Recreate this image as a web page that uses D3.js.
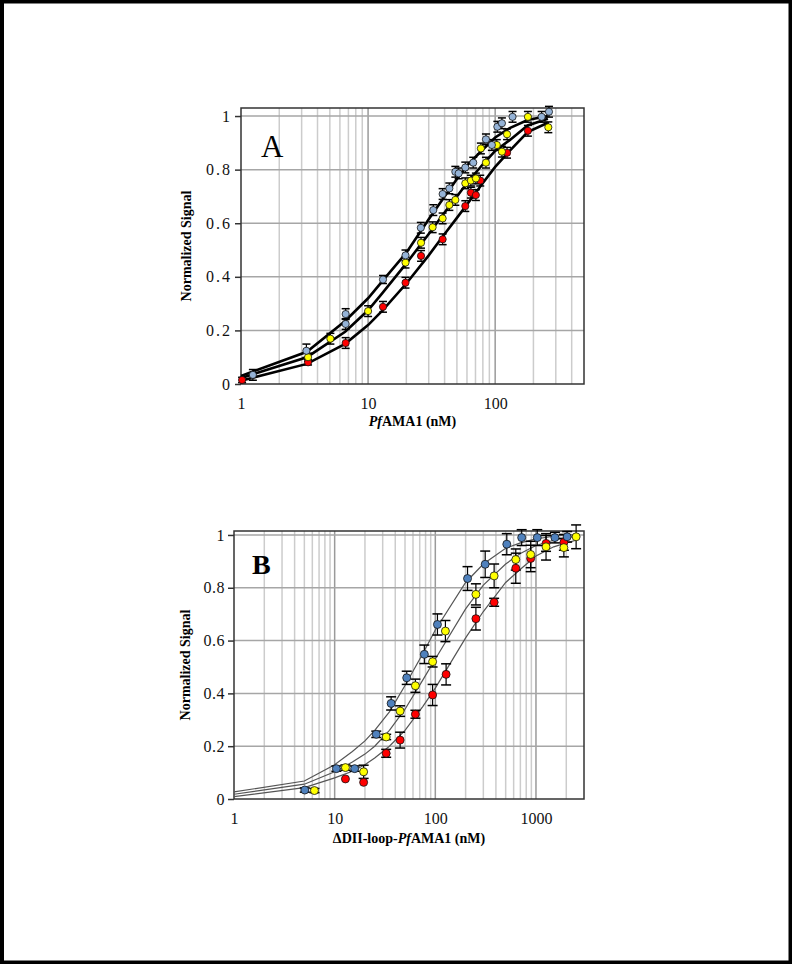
<!DOCTYPE html>
<html>
<head>
<meta charset="utf-8">
<script src="https://cdn.jsdelivr.net/npm/d3@7"></script>
<style>
  body { margin: 0; background: #fff; }
  text { font-family: "Liberation Serif", "Times New Roman", serif; }
</style>
</head>
<body>
<div class="chart"></div>
<script>
// Binding curves, two panels (A and B), log x axis
var svgWidth = 792;
var svgHeight = 964;

// ---- data: [concentration nM, normalized signal, error]
var aBlue = [[1.24,0.034,0.02],[3.27,0.124,0.025],[6.66,0.261,0.02],[6.66,0.224,0.02],[13.1,0.39,0.015],
  [19.7,0.48,0.02],[26,0.583,0.02],[32.6,0.649,0.02],[38.6,0.709,0.02],[43.6,0.73,0.02],[48.6,0.792,0.02],
  [51.6,0.786,0.02],[58.2,0.808,0.02],[67.2,0.826,0.02],[84.6,0.913,0.02],[94.2,0.892,0.02],[104,0.96,0.02],
  [113,0.973,0.02],[137,0.997,0.02],[232,0.997,0.02],[265,1.016,0.02]];
var aYellow = [[3.37,0.10,0.015],[5.05,0.169,0.02],[10,0.272,0.02],[19.7,0.453,0.02],[26.1,0.527,0.02],
  [32.2,0.585,0.02],[38.6,0.618,0.02],[43.6,0.668,0.02],[48.6,0.687,0.02],[58.2,0.749,0.02],[64.4,0.759,0.02],
  [70.5,0.767,0.02],[77.2,0.879,0.02],[84.6,0.826,0.02],[103,0.892,0.02],[113,0.867,0.02],[124,0.932,0.02],
  [181,0.997,0.02],[262,0.958,0.02]];
var aRed = [[1.02,0.015,0.01],[3.37,0.081,0.01],[6.66,0.153,0.02],[13.1,0.288,0.02],[19.7,0.378,0.02],
  [26.1,0.478,0.02],[38.6,0.54,0.02],[58.2,0.664,0.02],[64.4,0.714,0.02],[70.5,0.705,0.02],[76.3,0.759,0.02],
  [124,0.863,0.02],[181,0.945,0.02]];

// fitted curves, panel A
var aCurveX = [1, 3.3, 6.6, 10, 13, 20, 30, 40, 50, 60, 80, 100, 130, 180, 260];
var aCurveBlue = [0.03, 0.12, 0.235, 0.32, 0.385, 0.49, 0.615, 0.70, 0.765, 0.815, 0.875, 0.92, 0.955, 0.985, 1.0];
var aCurveYellow = [0.022, 0.10, 0.195, 0.275, 0.34, 0.45, 0.56, 0.64, 0.70, 0.75, 0.82, 0.87, 0.91, 0.965, 0.99];
var aCurveRed = [0.012, 0.075, 0.15, 0.22, 0.275, 0.375, 0.48, 0.56, 0.62, 0.67, 0.75, 0.81, 0.87, 0.94, 0.975];

var bBlue = [[5.05,0.034,0.008],[10.4,0.115,0.01],[15.8,0.115,0.01],[25.9,0.245,0.012],[36.4,0.362,0.025],
  [52,0.459,0.025],[77.8,0.548,0.035],[105,0.661,0.04],[209,0.835,0.045],[313,0.889,0.05],[513,0.965,0.04],
  [721,0.99,0.03],[1030,0.99,0.03],[1542,0.99,0.02],[2040,0.993,0.02]];
var bYellow = [[6.3,0.032,0.008],[12.8,0.119,0.01],[19.4,0.103,0.025],[32.5,0.235,0.01],[44.7,0.333,0.02],
  [63.4,0.429,0.025],[94,0.52,0.02],[126,0.636,0.04],[253,0.775,0.04],[384,0.845,0.045],[630,0.907,0.04],
  [886,0.926,0.05],[1259,0.955,0.05],[1893,0.952,0.035],[2505,0.993,0.045]];
var bRed = [[12.8,0.076,0.0],[19.4,0.063,0.0],[32.5,0.173,0.015],[44.7,0.223,0.03],[63.4,0.321,0.015],
  [94,0.394,0.04],[128,0.472,0.04],[253,0.683,0.043],[384,0.745,0.015],[630,0.874,0.057],[886,0.911,0.05],
  [1259,0.968,0.03],[1893,0.972,0.03]];

// fitted curves, panel B
var bCurveX = [1, 5, 10, 15, 20, 25, 35, 50, 75, 100, 200, 300, 500, 700, 1000, 1500, 2000, 2500];
var bCurveBlue = [0.027, 0.068, 0.13, 0.18, 0.22, 0.26, 0.33, 0.43, 0.55, 0.64, 0.82, 0.89, 0.95, 0.97, 0.985, 0.995, 1.0, 1.0];
var bCurveYellow = [0.018, 0.056, 0.103, 0.14, 0.17, 0.20, 0.26, 0.34, 0.45, 0.53, 0.72, 0.81, 0.89, 0.93, 0.96, 0.98, 0.99, 0.995];
var bCurveRed = [0.009, 0.043, 0.08, 0.105, 0.13, 0.155, 0.20, 0.26, 0.35, 0.42, 0.61, 0.71, 0.82, 0.87, 0.92, 0.955, 0.97, 0.98];

var yTicks = [0, 0.2, 0.4, 0.6, 0.8, 1];

var svg = d3
  .select(".chart")
  .append("svg")
  .attr("width", svgWidth)
  .attr("height", svgHeight);

// page frame
svg.append("rect")
  .attr("x", 2).attr("y", 1.5)
  .attr("width", svgWidth - 3.5).attr("height", svgHeight - 3)
  .attr("fill", "none")
  .attr("stroke", "#000")
  .attr("stroke-width", 4);

function drawPanel(p) {
  var x = d3.scaleLog().domain(p.xDomain).range([p.left, p.right]);
  var y = d3.scaleLinear().domain([0, p.yMax]).range([p.bottom, p.top]);
  var g = svg.append("g");

  // vertical grid (minor light, decades darker)
  g.selectAll(".vgrid")
    .data(x.ticks().filter(function(t) { return t > p.xDomain[0] && t < p.xDomain[1]; }))
    .enter().append("line")
    .attr("x1", function(d) { return x(d); })
    .attr("x2", function(d) { return x(d); })
    .attr("y1", p.top).attr("y2", p.bottom)
    .attr("stroke", function(d) { return Math.abs(Math.log10(d) % 1) < 1e-9 ? "#9a9a9a" : "#cccccc"; })
    .attr("stroke-width", 1.5);

  // horizontal grid
  g.selectAll(".hgrid")
    .data(yTicks.filter(function(t) { return t > 0; }))
    .enter().append("line")
    .attr("x1", p.left).attr("x2", p.right)
    .attr("y1", function(d) { return y(d); })
    .attr("y2", function(d) { return y(d); })
    .attr("stroke", "#a6a6a6")
    .attr("stroke-width", 1.5);

  // plot box
  g.append("rect")
    .attr("x", p.left).attr("y", p.top)
    .attr("width", p.right - p.left).attr("height", p.bottom - p.top)
    .attr("fill", "none")
    .attr("stroke", "#333")
    .attr("stroke-width", 1.5);

  // y axis
  var leftAxis = d3.axisLeft(y).tickValues(yTicks).tickSize(6).tickPadding(3)
    .tickFormat(function(d) { return d === 0 || d === 1 ? d : d3.format(".1f")(d); });
  var ya = g.append("g").attr("transform", "translate(" + p.left + ",0)").call(leftAxis);
  ya.select(".domain").remove();
  ya.selectAll("line").attr("stroke", "#333").attr("stroke-width", 1.5);
  ya.selectAll("text").attr("font-size", 16).attr("fill", "#111")
    .attr("letter-spacing", p.ySpacing)
    .style("font-family", "Liberation Serif, serif");

  // x axis, decade labels only, no tick marks
  var bottomAxis = d3.axisBottom(x).tickValues(p.xLabels).tickSize(0).tickPadding(14)
    .tickFormat(d3.format("d"));
  var xa = g.append("g").attr("transform", "translate(0," + p.bottom + ")").call(bottomAxis);
  xa.select(".domain").remove();
  xa.selectAll("text").attr("font-size", 16).attr("fill", "#111")
    .style("font-family", "Liberation Serif, serif");

  var line = d3.line()
    .x(function(d) { return x(d[0]); })
    .y(function(d) { return y(d[1]); });

  p.curves.forEach(function(c) {
    g.append("path")
      .datum(p.curveX.map(function(v, i) { return [v, c[i]]; }))
      .attr("d", line)
      .attr("fill", "none")
      .attr("stroke", p.curveColor)
      .attr("stroke-width", p.curveWidth);
  });

  p.series.forEach(function(s) {
    var eb = g.append("g");
    s.data.forEach(function(d) {
      if (d[2] <= 0) return;
      var cx = x(d[0]);
      eb.append("line")
        .attr("x1", cx).attr("x2", cx)
        .attr("y1", y(d[1] - d[2])).attr("y2", y(d[1] + d[2]))
        .attr("stroke", "#000").attr("stroke-width", 1.2);
      [d[1] - d[2], d[1] + d[2]].forEach(function(v) {
        eb.append("line")
          .attr("x1", cx - p.cap).attr("x2", cx + p.cap)
          .attr("y1", y(v)).attr("y2", y(v))
          .attr("stroke", "#000").attr("stroke-width", 1.5);
      });
    });
  });

  p.series.forEach(function(s) {
    g.selectAll(null)
      .data(s.data)
      .enter().append("circle")
      .attr("cx", function(d) { return x(d[0]); })
      .attr("cy", function(d) { return y(d[1]); })
      .attr("r", p.r)
      .attr("fill", s.color)
      .attr("stroke", "#111")
      .attr("stroke-width", 0.8);
  });

  // panel letter
  g.append("text")
    .attr("x", p.letterX).attr("y", p.letterY)
    .attr("font-size", p.letterSize)
    .attr("font-weight", p.letterWeight)
    .text(p.letter);

  // y axis title
  g.append("text")
    .attr("transform", "translate(" + p.yTitleX + "," + ((p.top + p.bottom) / 2) + ") rotate(-90)")
    .attr("text-anchor", "middle")
    .attr("font-size", 14)
    .attr("font-weight", "bold")
    .text("Normalized Signal");

  // x axis title with italic "Pf"
  var xt = g.append("text")
    .attr("x", (p.left + p.right) / 2)
    .attr("y", p.xTitleY)
    .attr("text-anchor", "middle")
    .attr("font-size", 14)
    .attr("font-weight", "bold");
  p.xTitle.forEach(function(part) {
    xt.append("tspan").attr("font-style", part[1] ? "italic" : "normal").text(part[0]);
  });
}

drawPanel({
  left: 241, right: 584, top: 108, bottom: 384,
  xDomain: [1, 500], yMax: 1.03, xLabels: [1, 10, 100],
  curveX: aCurveX, curves: [aCurveBlue, aCurveYellow, aCurveRed],
  curveColor: "#000", curveWidth: 2.6,
  series: [{ data: aRed, color: "#ff0000" }, { data: aYellow, color: "#ffff00" }, { data: aBlue, color: "#95b3d7" }],
  r: 3.6, cap: 4, ySpacing: 2,
  letter: "A", letterX: 261, letterY: 157, letterSize: 31, letterWeight: "normal",
  yTitleX: 191, xTitleY: 426,
  xTitle: [["Pf", true], ["AMA1 (nM)", false]]
});

drawPanel({
  left: 234, right: 584, top: 531, bottom: 799,
  xDomain: [1, 3000], yMax: 1.015, xLabels: [1, 10, 100, 1000],
  curveX: bCurveX, curves: [bCurveBlue, bCurveYellow, bCurveRed],
  curveColor: "#555", curveWidth: 1.2,
  series: [{ data: bRed, color: "#ff0000" }, { data: bYellow, color: "#ffff00" }, { data: bBlue, color: "#4f81bd" }],
  r: 4, cap: 5, ySpacing: 0.5,
  letter: "B", letterX: 252, letterY: 574, letterSize: 28, letterWeight: "bold",
  yTitleX: 190, xTitleY: 843,
  xTitle: [["\u0394DII-loop-", false], ["Pf", true], ["AMA1 (nM)", false]]
});
</script>
</body>
</html>
